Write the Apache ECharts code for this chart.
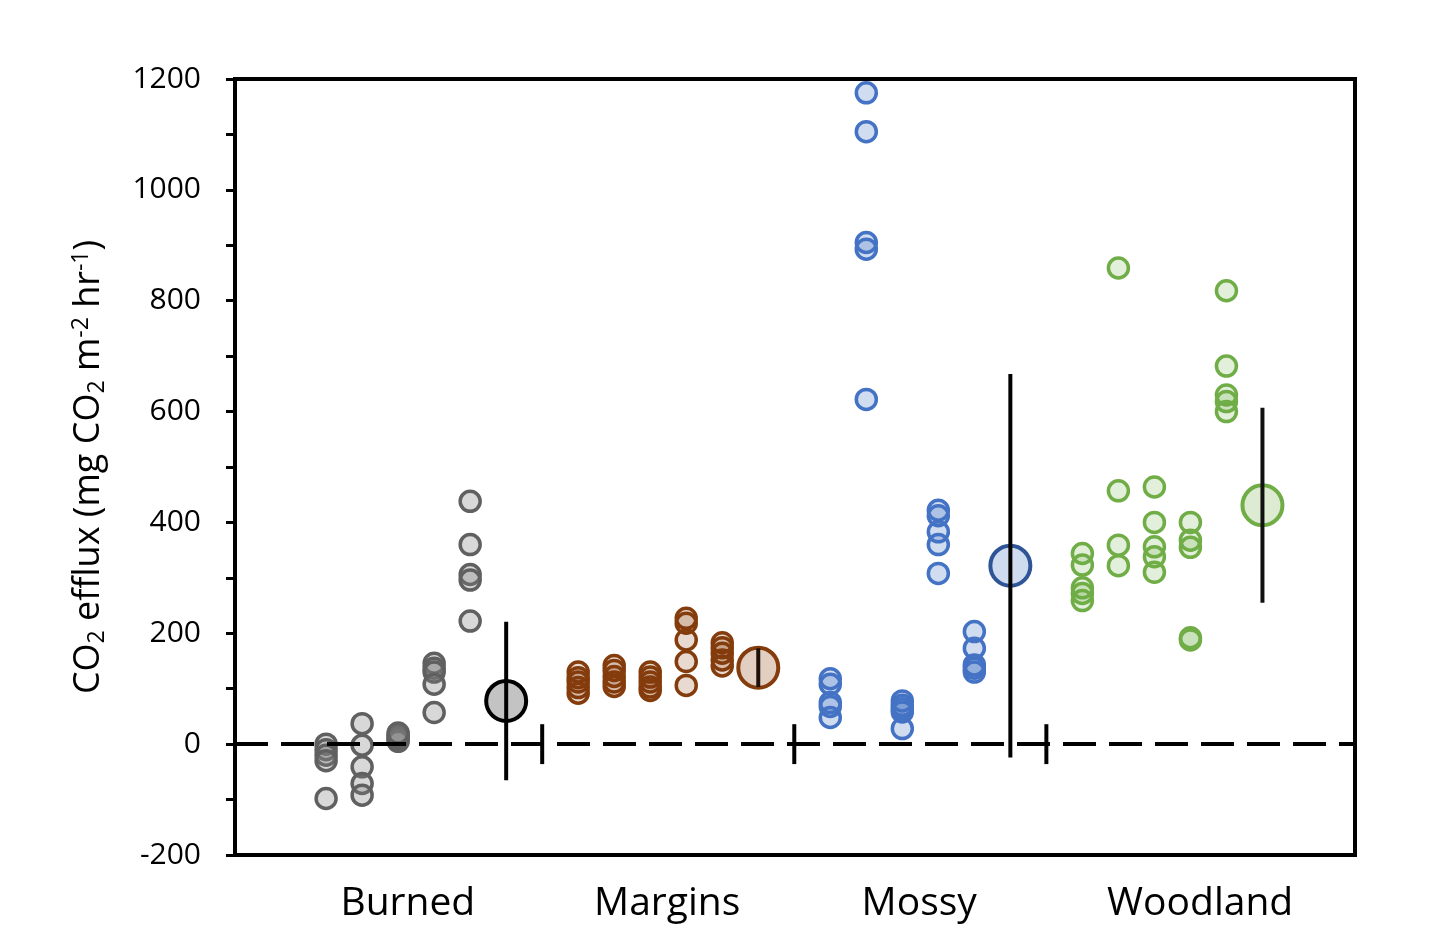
<!DOCTYPE html>
<html>
<head>
<meta charset="utf-8">
<script src="https://cdn.jsdelivr.net/npm/echarts@6/dist/echarts.min.js"></script>
<style>
  html, body { margin: 0; padding: 0; background: #fff; }
  #main { width: 1448px; height: 938px; }
</style>
</head>
<body>
<div id="main"></div>
<script>
// categories and their label positions on the x scale
var categories = ['Burned', 'Margins', 'Mossy', 'Woodland'];
var labelX = [4.8, 12, 19, 26.8];

// individual measurements, 5 plots per site (mg CO2 m-2 hr-1)
var burned = [
  [0, -10, -20, -30, -98],
  [37, -2, -41, -71, -92],
  [5, 9, 13, 17, 20],
  [146, 137, 130, 108, 57],
  [438, 360, 306, 296, 222]
];
var margins = [
  [130, 120, 112, 102, 92],
  [142, 133, 122, 112, 104],
  [130, 121, 112, 103, 97],
  [227, 218, 188, 149, 106],
  [183, 174, 164, 152, 141]
];
var mossy = [
  [118, 108, 75, 68, 48],
  [1175, 1105, 905, 893, 622],
  [78, 70, 64, 58, 28],
  [422, 412, 383, 360, 308],
  [203, 173, 143, 137, 130]
];
var woodland = [
  [344, 323, 282, 272, 259],
  [859, 457, 359, 322],
  [464, 400, 356, 338, 310],
  [400, 368, 355, 192, 188],
  [818, 682, 630, 618, 600]
];

// site means and error (half length of bar)
var means = [78, 138, 322, 431];
var errors = [143, 35, 346, 176];

var groups = [burned, margins, mossy, woodland];
var strokeColors = ['#606060', '#843c0c', '#4472c4', '#70ad47'];
var fillColors = ['rgba(127,127,127,0.3)', 'rgba(132,60,12,0.19)', 'rgba(68,114,196,0.25)', 'rgba(112,173,71,0.2)'];
var meanStroke = ['#000000', '#843c0c', '#2f5597', '#70ad47'];
var meanFill = ['#c3c3c3', '#e2cfc2', '#cfdcf0', '#dcebd2'];
var barColor = ['#000000', '#1e1008', '#000000', '#111111'];

// layout of the x scale: each site takes 7 slots
var START = 2.53, STEP = 7;
function colX(g, j) { return START + STEP * g + j; }

var chart = echarts.init(document.getElementById('main'));
var FONT = '"Open Sans", sans-serif';

var series = [];

// zero line
series.push({
  type: 'line',
  data: [],
  silent: true,
  markLine: {
    silent: true,
    symbol: 'none',
    label: { show: false },
    lineStyle: { color: '#000', width: 4, type: [33, 13] },
    data: [{ yAxis: 0 }]
  },
  z: 1
});

groups.forEach(function (cols, g) {
  var pts = [];
  cols.forEach(function (vals, j) {
    vals.forEach(function (v) { pts.push([colX(g, j), v]); });
  });
  series.push({
    name: categories[g],
    type: 'scatter',
    data: pts,
    symbolSize: 20,
    itemStyle: { color: fillColors[g], borderColor: strokeColors[g], borderWidth: 3.5, opacity: 1 },
    z: 3
  });
  series.push({
    type: 'scatter',
    data: [[colX(g, 5), means[g]]],
    symbolSize: 40,
    itemStyle: { color: meanFill[g], borderColor: meanStroke[g], borderWidth: 4, opacity: 1 },
    z: 4
  });
});

// error bars, drawn on top of the mean circles
series.push({
  type: 'custom',
  data: means.map(function (m, g) { return [colX(g, 5), m - errors[g], m + errors[g], g]; }),
  renderItem: function (params, api) {
    var lo = api.coord([api.value(0), api.value(1)]);
    var hi = api.coord([api.value(0), api.value(2)]);
    return {
      type: 'line',
      shape: { x1: lo[0], y1: lo[1], x2: hi[0], y2: hi[1] },
      style: { stroke: barColor[api.value(3)], lineWidth: 4 }
    };
  },
  encode: { x: 0, y: [1, 2] },
  z: 5
});

// short separators between sites
series.push({
  type: 'custom',
  data: [0, 1, 2].map(function (g) { return [colX(g, 6), -36, 36]; }),
  renderItem: function (params, api) {
    var lo = api.coord([api.value(0), api.value(1)]);
    var hi = api.coord([api.value(0), api.value(2)]);
    return {
      type: 'line',
      shape: { x1: lo[0], y1: lo[1], x2: hi[0], y2: hi[1] },
      style: { stroke: '#000', lineWidth: 4 }
    };
  },
  encode: { x: 0, y: [1, 2] },
  z: 5
});

var option = {
  backgroundColor: '#fff',
  animation: false,
  grid: {
    left: 235, right: 93, top: 79, bottom: 83,
    show: true, borderColor: '#000', borderWidth: 4, backgroundColor: 'transparent'
  },
  xAxis: {
    type: 'value',
    min: 0,
    max: 31.1,
    splitLine: { show: false },
    axisLine: { show: false },
    axisTick: { show: false },
    axisLabel: {
      customValues: labelX,
      margin: 29,
      fontFamily: FONT,
      fontSize: 39,
      color: '#000',
      formatter: function (v) {
        var i = labelX.indexOf(v);
        return i >= 0 ? categories[i] : '';
      }
    }
  },
  yAxis: {
    type: 'value',
    min: -200,
    max: 1200,
    interval: 200,
    splitLine: { show: false },
    axisLine: { show: true, lineStyle: { color: '#000', width: 4 } },
    axisTick: { show: true, inside: false, length: 9, lineStyle: { color: '#000', width: 3 } },
    minorTick: { show: true, splitNumber: 2, length: 9, lineStyle: { color: '#000', width: 3 } },
    axisLabel: {
      margin: 34, fontFamily: FONT, fontSize: 30, color: '#000',
      formatter: function (v) { return String(v); }
    },
    name: '{a|CO}{s|2}{a| efflux (mg CO}{s|2}{a| m}{p|-2}{a| hr}{p|-1}{a|)}',
    nameLocation: 'middle',
    nameRotate: 90,
    nameGap: 126,
    nameTextStyle: {
      fontFamily: FONT,
      color: '#000',
      rich: {
        a: { fontFamily: FONT, fontSize: 36, color: '#000' },
        s: { fontFamily: FONT, fontSize: 23, color: '#000', padding: [17, 0, 0, 0] },
        p: { fontFamily: FONT, fontSize: 23, color: '#000', padding: [0, 0, 15, 0] }
      }
    }
  },
  series: series
};

chart.setOption(option);
</script>
</body>
</html>
